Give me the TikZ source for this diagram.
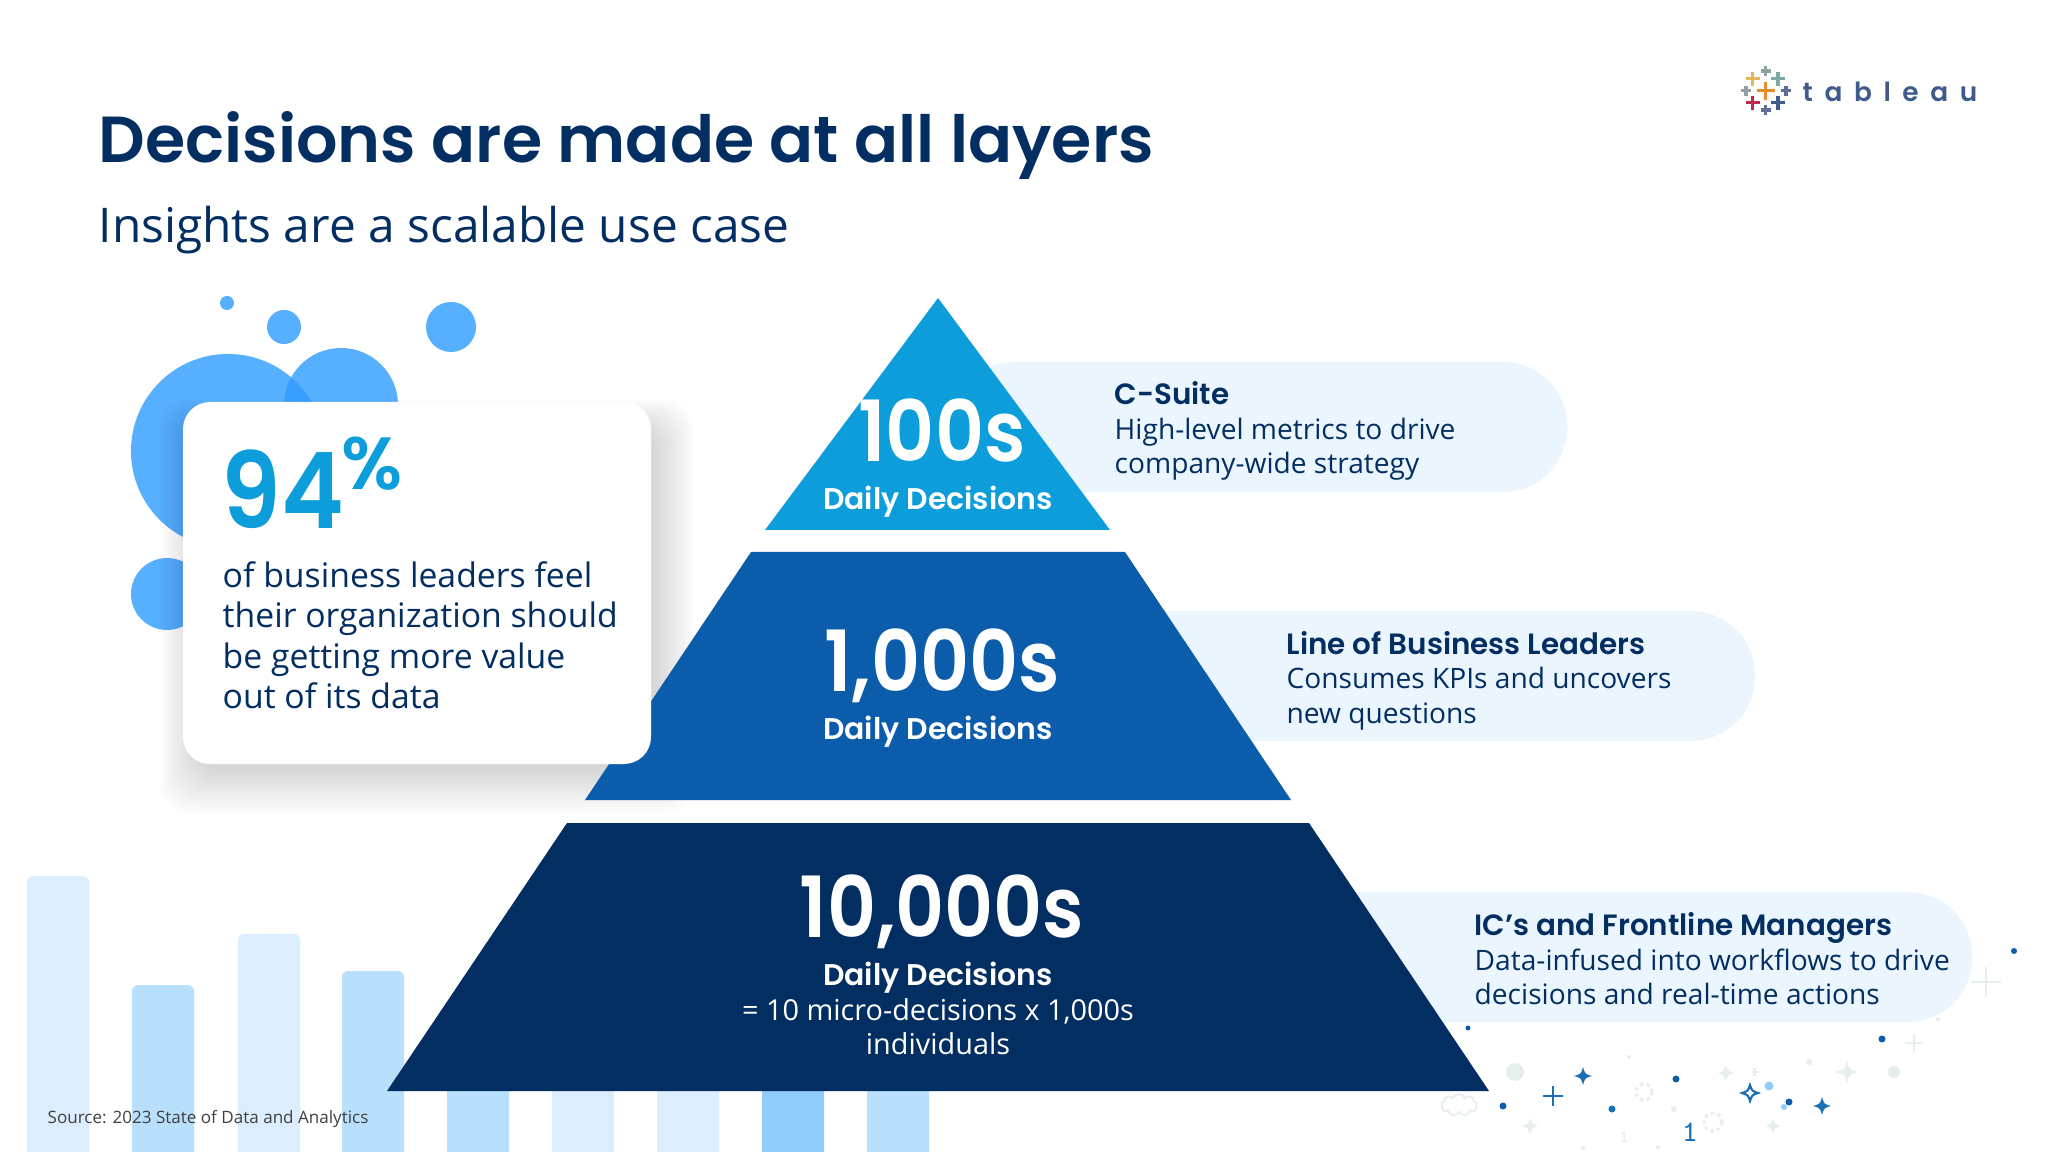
\documentclass[tikz,border=0pt]{standalone}
\usepackage{fontspec}
\usepackage{xcolor}
\usepackage{tikz}
\usetikzlibrary{shapes.symbols}
\setmainfont{Open Sans}
\newfontfamily\headfont{Poppins}[BoldFont={Poppins SemiBold}]
\newfontfamily\countfont{Poppins}[BoldFont={Poppins SemiBold},FakeStretch=0.9]
\newfontfamily\logofont{Poppins}[BoldFont={Poppins SemiBold},LetterSpace=44]
\definecolor{navy}{HTML}{032E61}
\definecolor{midblue}{HTML}{0B5CAB}
\definecolor{topblue}{HTML}{0D9DDA}
\definecolor{pillblue}{HTML}{EAF5FE}
\definecolor{barlight}{HTML}{DCEEFE}
\definecolor{barmid}{HTML}{B8DFFC}
\definecolor{barstrong}{HTML}{90CDFD}
\definecolor{bubble}{HTML}{2E9BFF}
\definecolor{speck}{HTML}{E6EEEE}
\definecolor{dotblue}{HTML}{1B6FB5}
\definecolor{logoorange}{HTML}{E88B2A}
\definecolor{logored}{HTML}{BE2C4B}
\definecolor{logonavy}{HTML}{3F5B8C}
\definecolor{logoyellow}{HTML}{E3B75A}
\definecolor{logoteal}{HTML}{7FA8A8}
\definecolor{logogrey}{HTML}{8FA3A3}
\definecolor{logoslate}{HTML}{5E6E97}
\begin{document}
\begin{tikzpicture}[
    x                = 0.01cm,
    y                = -0.01cm,
    every node/.style = {inner sep=0pt},
    barshape/.style  = {rounded corners=0.06cm},
    pill/.style      = {fill=pillblue, rounded corners=0.64cm},
    headtext/.style  = {anchor=base west, text=navy, font=\fontsize{8.35}{8.5}\selectfont\headfont\bfseries},
    bodytext/.style  = {anchor=base west, text=navy, font=\fontsize{8}{8}\selectfont},
    count/.style     = {anchor=base, text=white, font=\fontsize{24}{24}\selectfont\countfont\bfseries},
    daily/.style     = {anchor=base, text=white, font=\fontsize{8.5}{8.5}\selectfont\headfont\bfseries},
    micro/.style     = {anchor=base, text=white, font=\fontsize{8.2}{8.2}\selectfont},
    logocross/.style = {line width=.9pt},
    bubbleshape/.style = {fill=bubble, opacity=.8}
  ]
\useasboundingbox (0,0) rectangle (2048,1152);
\fill[white] (0,0) rectangle (2048,1152);

% bars behind everything
\foreach \xa/\top/\col in {27/876/barlight,132/985/barmid,238/934/barlight,342/971/barmid,447/1050/barmid,552/1050/barlight,657/1050/barlight,762/1050/barstrong,867/1050/barmid}
  \fill[\col,barshape] (\xa,\top) rectangle (\xa+62,1170);

% bubbles
\fill[bubbleshape] (227,303) circle (7);
\fill[bubbleshape] (284,327) circle (17);
\fill[bubbleshape] (451,327) circle (25);
\fill[bubbleshape] (228,451) circle (97);
\fill[bubbleshape] (341,405) circle (57);
\fill[bubbleshape] (167,594) circle (36);

% pills
\fill[pill] (950,362) rectangle (1567,492);
\fill[pill] (1100,611) rectangle (1755,741);
\fill[pill] (1300,892) rectangle (1972,1022);

% specks
\foreach \xa/\ya/\rr in {1515/1072/9,1894/1072/6,1809/1062/3,1674/1109/3,1938/1019/2,1583/1148/2,1658/1147/2,1629/1057/2}
  \fill[speck] (\xa,\ya) circle (\rr);
\foreach \xa/\ya/\rr in {1644/1092/8,1713/1122/9}
  \draw[speck,line width=.9pt,densely dotted] (\xa,\ya) circle (\rr);
\foreach \xa/\ya/\hh/\col in {1986/982/15/speck,1914/1043/9/speck,1754.6/1072/4/speck,1553/1096/10/dotblue}
  \draw[\col,line width=.8pt] (\xa-\hh,\ya) -- (\xa+\hh,\ya) (\xa,\ya-\hh) -- (\xa,\ya+\hh);
\foreach \xa/\ya/\hh/\col in {1583/1076/9/dotblue,1822/1106/9/dotblue,1847/1072/12/speck,1726/1073/8/speck,1530/1126/8/speck,1773/1126/7/speck}
  \fill[\col] (\xa,\ya-\hh) .. controls (\xa+2,\ya-2) .. (\xa+\hh,\ya) .. controls (\xa+2,\ya+2) .. (\xa,\ya+\hh) .. controls (\xa-2,\ya+2) .. (\xa-\hh,\ya) .. controls (\xa-2,\ya-2) .. cycle;
\draw[dotblue,line width=.6pt] (1750,1085) .. controls (1752,1091) .. (1758,1093) .. controls (1752,1095) .. (1750,1101) .. controls (1748,1095) .. (1742,1093) .. controls (1748,1091) .. cycle;
\foreach \xa/\ya/\rr/\col in {1468/1028/2.5/midblue,1503/1106/3.5/midblue,1612/1109/3.5/dotblue,1676/1079/3.5/midblue,1789/1102/3.5/midblue,1882/1039/3.5/midblue,2014/951/3/midblue,1769/1086/4.5/barstrong,1784/1107/3/barstrong}
  \fill[\col] (\xa,\ya) circle (\rr);
\node[cloud,draw=speck,cloud puffs=9,minimum width=0.36cm,minimum height=0.22cm,line width=.5pt] (cloudmark) at (1459,1105) {};
\node[anchor=center,text=dotblue,font=\fontsize{8.5}{8.5}\selectfont\ttfamily] (digitone) at (1690,1132) {1};
\node[anchor=center,text=speck,font=\fontsize{5}{5}\selectfont\ttfamily] (digittwo) at (1624,1137) {1};

% card shadow, under the pyramid
\foreach \k in {0,...,19}
  \fill[black,opacity=.007,rounded corners=0.3cm] ({197-2*\k},{428-1.5*\k}) rectangle ({657+2*\k},{772+2.2*\k});

% pyramid
\fill[topblue] (938,298) -- (1110,530) -- (765,530) -- cycle;
\fill[midblue] (751,552) -- (1125,552) -- (1291,800) -- (585,800) -- cycle;
\fill[navy] (567,823) -- (1309,823) -- (1489,1091) -- (387,1091) -- cycle;

% card
\fill[white,rounded corners=0.27cm] (183,402) rectangle (651,764);

% title
\node[anchor=base west,text=navy,font=\fontsize{18.5}{20}\selectfont\headfont\bfseries] (title) at (98,163) {Decisions are made at all layers};
\node[anchor=base west,text=navy,font=\fontsize{13.6}{14}\selectfont] (subtitle) at (98,243) {Insights are a scalable use case};

% card text
\node[anchor=base west,text=topblue,font=\fontsize{30}{30}\selectfont\countfont\bfseries] (ninety) at (221,528) {94};
\node[anchor=base west,text=topblue,font=\fontsize{21}{21}\selectfont\headfont\bfseries] (percent) at (341,490) {\%};
\node[anchor=north west,text=navy,align=left,font=\fontsize{9.6}{11.5}\selectfont] (cardtext) at (222,561) {of business leaders feel\\their organization should\\be getting more value\\out of its data};

% pyramid text
\node[count] (hundreds) at (942,462) {100s};
\node[daily] (dailya) at (938,510) {Daily Decisions};
\node[count] (thousands) at (942,691) {1,000s};
\node[daily] (dailyb) at (938,739) {Daily Decisions};
\node[count] (tenthousands) at (942,937) {10,000s};
\node[daily] (dailyc) at (938,985) {Daily Decisions};
\node[micro] (microa) at (938,1020) {= 10 micro-decisions x 1,000s};
\node[micro] (microb) at (938,1054) {individuals};

% pill text
\node[headtext] (suite) at (1114,405) {C-Suite};
\node[bodytext] (suitea) at (1114,440) {High-level metrics to drive};
\node[bodytext] (suiteb) at (1114,474) {company-wide strategy};
\node[headtext] (lob) at (1286,654) {Line of Business Leaders};
\node[bodytext] (loba) at (1286,688) {Consumes KPIs and uncovers};
\node[bodytext] (lobb) at (1286,723) {new questions};
\node[headtext] (ics) at (1474,935) {IC’s and Frontline Managers};
\node[bodytext] (icsa) at (1474,970) {Data-infused into workflows to drive};
\node[bodytext] (icsb) at (1474,1004) {decisions and real-time actions};

% source
\node[anchor=base west,text=black!75,font=\fontsize{4.85}{5}\selectfont] (source) at (47,1123) {Source: 2023 State of Data and Analytics};

% logo
\foreach \xa/\ya/\hh/\col in {1765.7/90.7/9/logoorange,1752.7/102.7/7/logored,1778/102.7/7/logonavy,1752.7/78.7/7/logoyellow,1778/78.7/7/logoteal,1765.7/71/5/logogrey,1765.7/110/5/logoslate,1746/90.7/5/logogrey,1786/90.7/5/logoslate}
  \draw[\col,logocross] (\xa-\hh,\ya) -- (\xa+\hh,\ya) (\xa,\ya-\hh) -- (\xa,\ya+\hh);
\node[anchor=base west,text=logonavy,font=\fontsize{7.5}{8}\selectfont\logofont\bfseries] (logotext) at (1802,102) {tableau};
\end{tikzpicture}
\end{document}
